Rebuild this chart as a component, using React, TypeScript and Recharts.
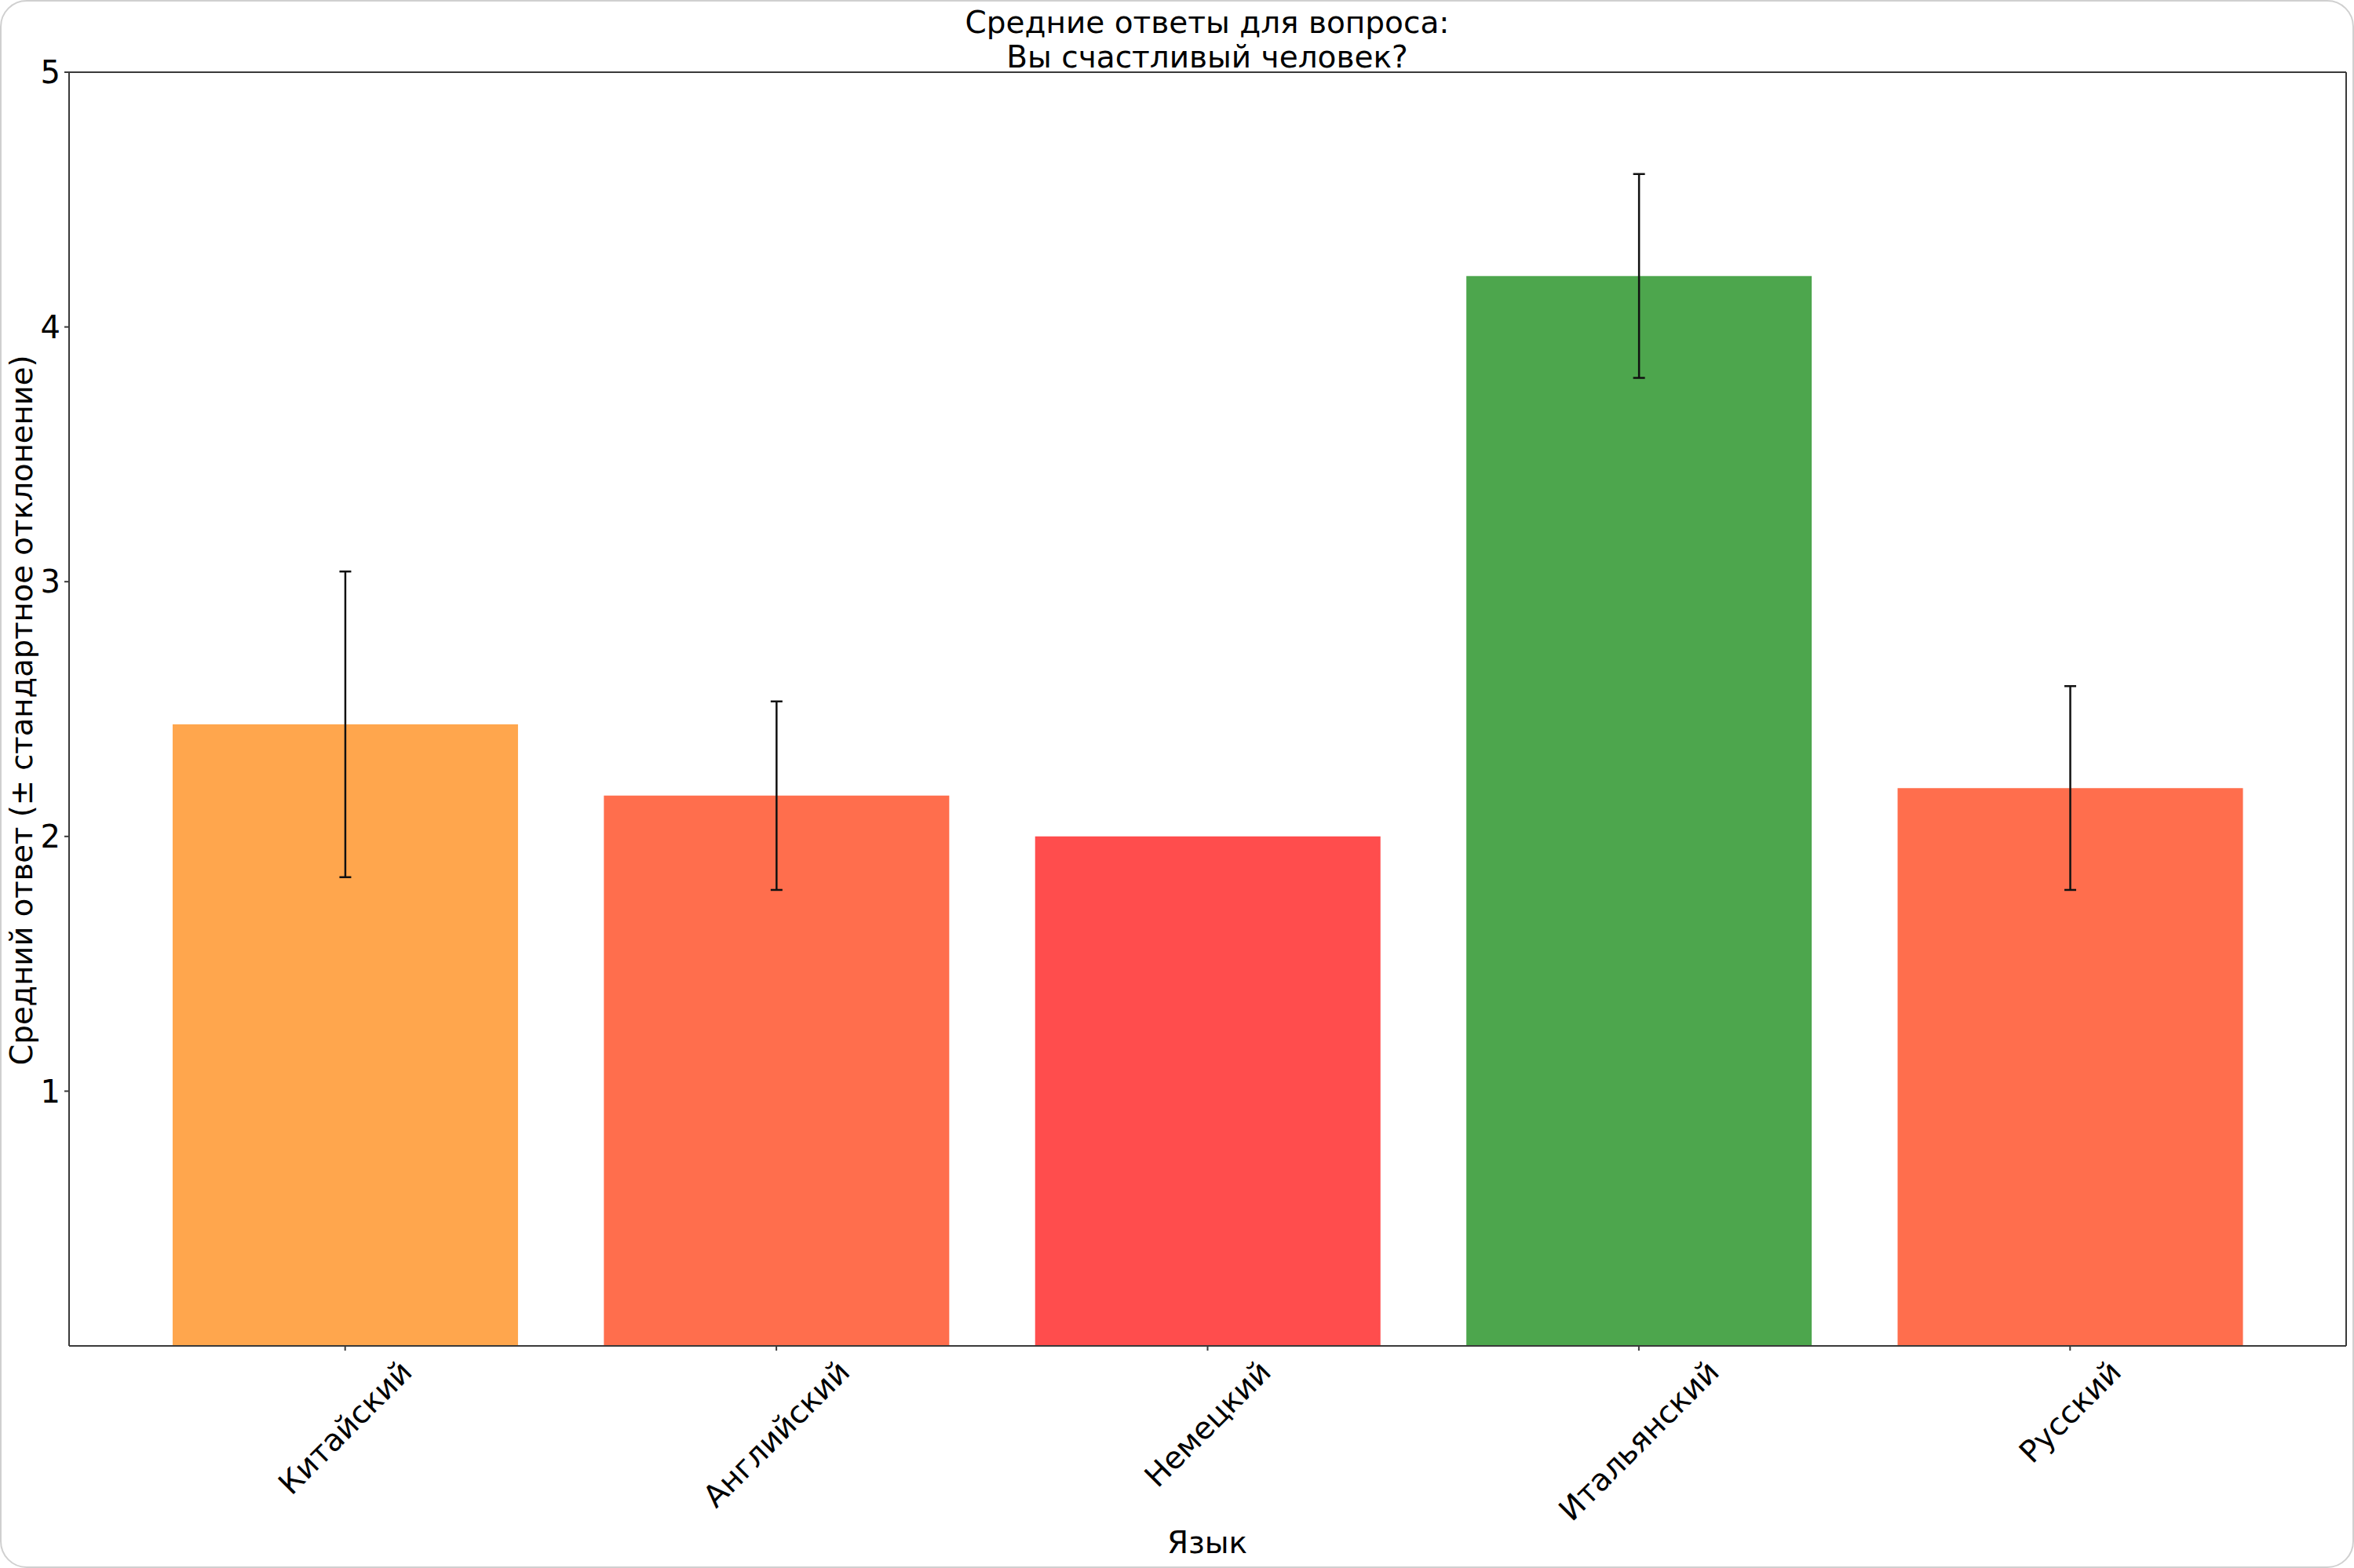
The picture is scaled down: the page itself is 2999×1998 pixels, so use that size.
import React from 'react';
import { BarChart, Bar, XAxis, YAxis, Cell, ErrorBar, CartesianGrid } from 'recharts';

const languages = ['Китайский', 'Английский', 'Немецкий', 'Итальянский', 'Русский'];
const means = [2.44, 2.16, 2.0, 4.2, 2.19];
const stdDevs = [0.6, 0.37, 0.0, 0.4, 0.4];
const barColors = ['#FFA64D', '#FF6E4D', '#FF4D4D', '#4DA64D', '#FF6E4D'];
const yTicks = [1, 2, 3, 4, 5];

const titleLines = ['Средние ответы для вопроса:', 'Вы счастливый человек?'];
const yLabel = 'Средний ответ (± стандартное отклонение)';
const xLabel = 'Язык';

const data = languages.map((name, i) => ({ name, mean: means[i], sd: stdDevs[i] }));

const FONT = '"DejaVu Sans", sans-serif';
const FS = 40;
const TICK_FS = 39;

let ctx: CanvasRenderingContext2D | null = null;
const measure = (t: string) => {
  if (!ctx) {
    ctx = document.createElement('canvas').getContext('2d');
  }
  if (!ctx) return t.length * TICK_FS * 0.6;
  ctx.font = `${TICK_FS}px "DejaVu Sans"`;
  return ctx.measureText(t).width;
};

const RotTick = (props: any) => {
  const { x, y, payload } = props;
  const text = String(payload.value);
  const w = measure(text);
  const h = TICK_FS * 1.164;
  const bboxH = (w + h) / Math.SQRT2;
  const cy = y + 2 + bboxH / 2;
  return (
    <text
      x={x}
      y={cy}
      transform={`rotate(-45, ${x}, ${cy})`}
      textAnchor="middle"
      dominantBaseline="central"
      fontFamily={FONT}
      fontSize={TICK_FS}
      fill="#000"
    >
      {text}
    </text>
  );
};

export default function App() {
  const W = 2999;
  const H = 1998;
  return (
    <div
      style={{
        position: 'absolute',
        left: 0,
        top: 0,
        width: W,
        height: H,
        background: '#fff',
        border: '2px solid #d0d0d0',
        borderRadius: 34,
        boxSizing: 'border-box',
        overflow: 'hidden',
      }}
    >
      <div style={{ position: 'absolute', left: -2, top: -2 }}>
        <BarChart
          width={W}
          height={H}
          data={data}
          margin={{ top: 92, right: 10, bottom: 0, left: 0 }}
          barCategoryGap="10%"
        >
          <CartesianGrid
            stroke="#3a3a3a"
            strokeWidth={2}
            fill="none"
            horizontalCoordinatesGenerator={({ offset }: any) => [offset.top]}
            verticalCoordinatesGenerator={({ offset }: any) => [offset.left + offset.width]}
          />
          <XAxis
            dataKey="name"
            height={283}
            padding={{ left: 77, right: 77 }}
            tick={<RotTick />}
            tickSize={6}
            tickMargin={2}
            interval={0}
            axisLine={{ stroke: '#3a3a3a', strokeWidth: 2 }}
            tickLine={{ stroke: '#3a3a3a', strokeWidth: 2 }}
          />
          <YAxis
            width={88}
            domain={[0, 5]}
            ticks={yTicks}
            type="number"
            allowDataOverflow
            tickSize={6}
            tickMargin={5}
            tick={{ fontSize: FS, fill: '#000', fontFamily: FONT }}
            axisLine={{ stroke: '#3a3a3a', strokeWidth: 2 }}
            tickLine={{ stroke: '#3a3a3a', strokeWidth: 2 }}
          />
          <Bar dataKey="mean" isAnimationActive={false}>
            {data.map((d, i) => (
              <Cell key={d.name} fill={barColors[i]} />
            ))}
            <ErrorBar
              dataKey="sd"
              width={7.5}
              stroke="#111"
              strokeWidth={2.5}
              direction="y"
              isAnimationActive={false}
            />
          </Bar>
        </BarChart>
      </div>
      <svg
        width={W}
        height={H}
        style={{ position: 'absolute', left: -2, top: -2, pointerEvents: 'none' }}
      >
        <text x={1538} y={42} textAnchor="middle" fontFamily={FONT} fontSize={39} fill="#000">
          {titleLines[0]}
        </text>
        <text x={1538} y={86} textAnchor="middle" fontFamily={FONT} fontSize={39} fill="#000">
          {titleLines[1]}
        </text>
        <text
          x={27}
          y={905}
          transform="rotate(-90, 27, 905)"
          textAnchor="middle"
          dominantBaseline="central"
          fontFamily={FONT}
          fontSize={38.5}
          fill="#000"
        >
          {yLabel}
        </text>
        <text x={1538} y={1979} textAnchor="middle" fontFamily={FONT} fontSize={39} fill="#000">
          {xLabel}
        </text>
      </svg>
    </div>
  );
}
